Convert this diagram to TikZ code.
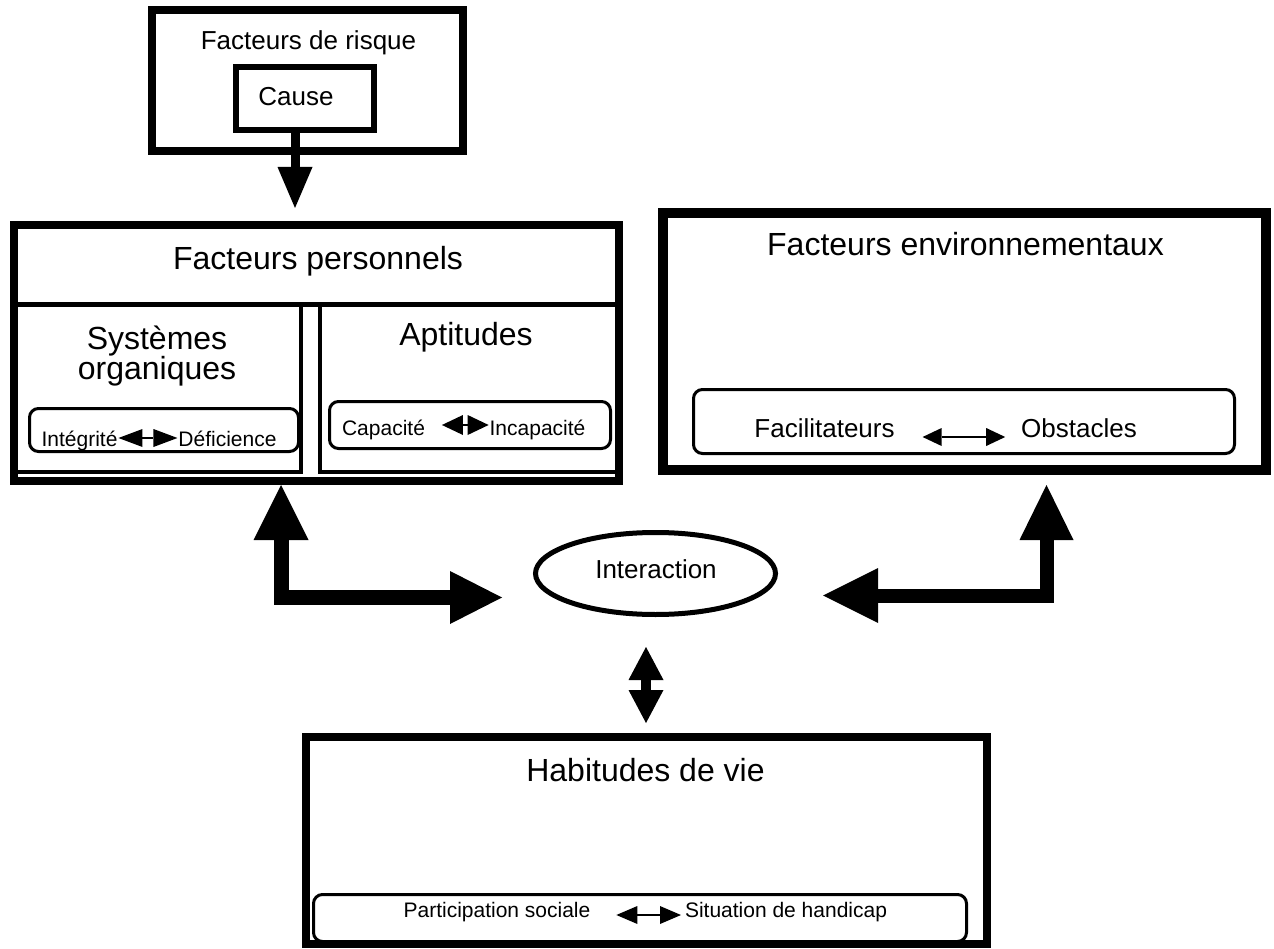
\documentclass[tikz,border=0pt]{standalone}
\usepackage{fontspec}
\setmainfont{Liberation Sans}
\usetikzlibrary{arrows.meta,shapes.geometric}
\newcommand\FsT{\fontsize{32}{30}\selectfont}
\newcommand\FsM{\fontsize{26}{28}\selectfont}
\newcommand\FsS{\fontsize{21}{24}\selectfont}
\begin{document}
\begin{tikzpicture}[x=1pt,y=-1pt,
  box/.style={draw, rectangle, inner sep=0pt, outer sep=0pt},
  rbox/.style={draw, rectangle, line width=3pt, rounded corners=9pt, inner sep=0pt, outer sep=0pt},
  lbl/.style={anchor=base, inner sep=0pt, outer sep=0pt},
  fat/.style={line width=#1},
  tipA/.style={},
]
\useasboundingbox (0,0) rectangle (1274,949);

% ---- boxes ----
\node[box, line width=8pt, minimum width=311pt, minimum height=141pt] (risk) at (307.5,80.5) {};
\node[box, line width=6pt, minimum width=138pt, minimum height=63pt] (cause) at (305,98.5) {};
\node[box, line width=8pt, minimum width=605pt, minimum height=256pt] (pf) at (316.5,353) {};
\node[box, line width=4pt, minimum width=286.5pt, minimum height=167pt] (so) at (157.25,388) {};
\node[box, line width=4pt, minimum width=299pt, minimum height=167pt] (ap) at (469.5,388) {};
\draw[line width=5pt] (so.north west) -- (ap.north east);
\node[box, line width=10pt, minimum width=603pt, minimum height=257pt] (env) at (964.5,341.5) {};
\node[box, line width=8pt, minimum width=681pt, minimum height=207pt] (hab) at (646.5,840.5) {};
\node[draw, ellipse, line width=5pt, inner sep=0pt, outer sep=0pt, minimum width=240pt, minimum height=82pt] (inter) at (655.5,573.5) {};

% ---- rounded inner boxes ----
\node[rbox, minimum width=269pt, minimum height=43pt] (sor) at (164,430) {};
\node[rbox, minimum width=281pt, minimum height=47pt] (apr) at (470,425) {};
\node[rbox, minimum width=541pt, minimum height=64pt] (envr) at (964,421.5) {};
\node[rbox, minimum width=653pt, minimum height=47pt] (habr) at (640,918) {};

% ---- texts ----
\node[lbl, font=\FsM] (trisk) at (308.5,50) {Facteurs de risque};
\node[lbl, font=\FsM] (tcause) at (296,106) {Cause};
\node[lbl, font=\FsT] (tpf) at (318,270) {Facteurs personnels};
\node[lbl, font=\FsT] (tso1) at (157,350) {Systèmes};
\node[lbl, font=\FsT] (tso2) at (157,380) {organiques};
\node[lbl, font=\FsT] (tap) at (466,346) {Aptitudes};
\node[lbl, font=\FsS] (tint) at (79.5,446) {Intégrité};
\node[lbl, font=\FsS] (tdef) at (227.5,446) {Déficience};
\node[lbl, font=\FsS] (tcap) at (383.5,435) {Capacité};
\node[lbl, font=\FsS] (tincap) at (537.5,435) {Incapacité};
\node[lbl, font=\FsT] (tenv) at (965.5,256) {Facteurs environnementaux};
\node[lbl, font=\FsM] (tfac) at (824.5,437) {Facilitateurs};
\node[lbl, font=\FsM] (tobs) at (1079,437) {Obstacles};
\node[lbl, font=\FsM] (tinter) at (656,578) {Interaction};
\node[lbl, font=\FsT] (thab) at (645.5,781) {Habitudes de vie};
\node[lbl, font=\FsS] (tpart) at (497,917) {Participation sociale};
\node[lbl, font=\FsS] (tsit) at (786,917) {Situation de handicap};

% ---- small double arrows ----
\draw[line width=2pt, {Triangle[length=24pt,width=18pt,line width=0pt]}-{Triangle[length=24pt,width=18pt,line width=0pt]}]
  ([shift={(1,-8)}]tint.base east) -- ([shift={(-1,-8)}]tdef.base west);
\draw[line width=2pt, {Triangle[length=21pt,width=20pt,line width=0pt]}-{Triangle[length=21pt,width=20pt,line width=0pt]}]
  ([shift={(17,-10)}]tcap.base east) -- ([shift={(-1,-10)}]tincap.base west);
\draw[line width=2pt, {Triangle[length=19pt,width=18pt,line width=0pt]}-{Triangle[length=19pt,width=18pt,line width=0pt]}]
  ([shift={(28,0)}]tfac.base east) -- ([shift={(-16,0)}]tobs.base west);
\draw[line width=2pt, {Triangle[length=21pt,width=18pt,line width=0pt]}-{Triangle[length=21pt,width=18pt,line width=0pt]}]
  ([shift={(26,-2)}]tpart.base east) -- ([shift={(-4,-2)}]tsit.base west);

% ---- big arrows ----
\draw[line width=9pt, -{Triangle[length=41pt,width=35pt,line width=0pt]}]
  ([shift={(-10,0)}]cause.south) -- ([shift={(-21.5,-17)}]pf.north);
\draw[line width=15pt, {Triangle[length=55pt,width=55pt,line width=0pt]}-{Triangle[length=52pt,width=53pt,line width=0pt]}]
  ([shift={(-35.5,4)}]pf.south) |- ([shift={(-33.5,24)}]inter.west);
\draw[line width=14pt, {Triangle[length=55pt,width=54pt,line width=0pt]}-{Triangle[length=55pt,width=55pt,line width=0pt]}]
  ([shift={(82,15)}]env.south) |- ([shift={(47.5,22)}]inter.east);
\draw[line width=10pt, {Triangle[length=33pt,width=35pt,line width=0pt]}-{Triangle[length=33pt,width=35pt,line width=0pt]}]
  ([shift={(-9.5,32.5)}]inter.south) -- ([shift={(-0.5,-14)}]hab.north);
\end{tikzpicture}
\end{document}
